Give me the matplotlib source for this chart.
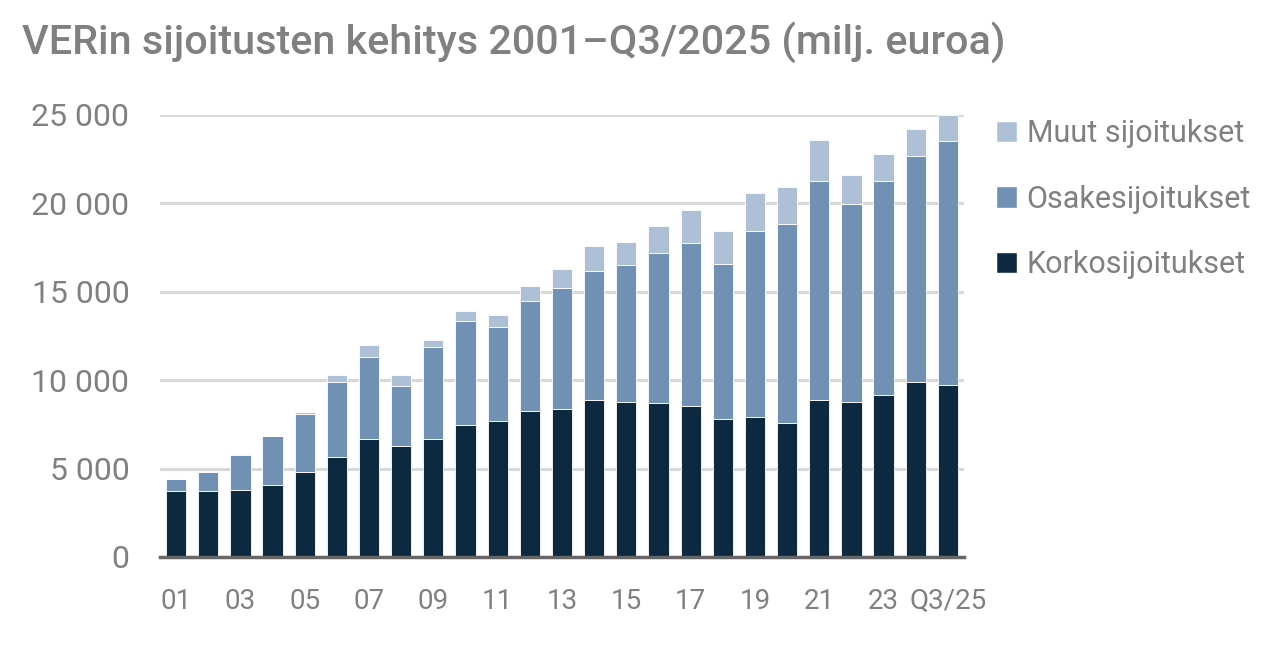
import numpy as np
from matplotlib import pyplot as plt
from matplotlib.ticker import FuncFormatter
from matplotlib.patches import Patch

plt.rcParams['font.family'] = ['Roboto', 'DejaVu Sans']

vuodet = ['01', '02', '03', '04', '05', '06', '07', '08', '09', '10', '11', '12',
          '13', '14', '15', '16', '17', '18', '19', '20', '21', '22', '23', '24', 'Q3/25']
# milj. euroa, luettu kuvasta
korko = [3730, 3760, 3790, 4070, 4810, 5660, 6670, 6300, 6670, 7470, 7690, 8280,
         8390, 8880, 8790, 8730, 8560, 7810, 7920, 7580, 8900, 8770, 9160, 9900, 9730]
osake = [660, 1050, 2000, 2750, 3300, 4260, 4640, 3370, 5210, 5880, 5300, 6200,
         6820, 7280, 7730, 8450, 9200, 8760, 10520, 11260, 12390, 11200, 12130, 12780, 13800]
muut = [0, 0, 30, 50, 75, 360, 700, 650, 420, 550, 720, 870,
        1100, 1410, 1320, 1570, 1840, 1890, 2160, 2080, 2300, 1610, 1490, 1530, 1450]
sarjat = ['Korkosijoitukset', 'Osakesijoitukset', 'Muut sijoitukset']
varit = ['#0d2940', '#7090b4', '#adc0d6']

harmaa = '#808080'

fig = plt.figure(figsize=(12.88, 6.72), dpi=100)
ax = fig.add_axes([160/1288, 1-557/672, 804/1288, 442/672])

x = np.arange(len(vuodet))
pohja = np.zeros(len(vuodet))
for arvot, vari in zip([korko, osake, muut], varit):
    ax.bar(x, arvot, 0.63, bottom=pohja, color=vari, edgecolor='white', linewidth=0.6, zorder=3)
    pohja = pohja + np.array(arvot)

ax.set_xlim(-0.5, len(vuodet) - 0.5)
ax.set_ylim(0, 25000)
ax.set_yticks(np.arange(0, 25001, 5000))
ax.yaxis.set_major_formatter(FuncFormatter(lambda v, p: f'{int(v):,}'.replace(',', ' ')))
ax.set_xticks(x[::2])
ax.set_xticklabels(vuodet[::2])

ax.grid(axis='y', color='#d9d9d9', linewidth=2.2, zorder=0)
for s in ['top', 'right', 'left']:
    ax.spines[s].set_visible(False)
ax.spines['bottom'].set_color('#666666')
ax.spines['bottom'].set_linewidth(2.5)
ax.spines['bottom'].set_zorder(4)
ax.tick_params(axis='both', length=0, colors=harmaa)
ax.tick_params(axis='y', pad=22, labelsize=23)
ax.tick_params(axis='x', pad=22, labelsize=20)

fig.text(22/1288, 1-42/672, 'VERin sijoitusten kehitys 2001\u2013Q3/2025 (milj. euroa)',
         fontsize=29.8, color=harmaa, fontweight='medium', va='center', ha='left')

kahvat = [Patch(facecolor=v, edgecolor='white') for v in varit][::-1]
leg = fig.legend(kahvat, sarjat[::-1], loc='upper left', bbox_to_anchor=(996/1288, 1-119/672),
                 frameon=False, fontsize=22, handlelength=0.7, handleheight=0.7,
                 handletextpad=0.3, labelspacing=1.2, borderaxespad=0, borderpad=0)
for t in leg.get_texts():
    t.set_color(harmaa)

fig.savefig('out.png', dpi=100)
